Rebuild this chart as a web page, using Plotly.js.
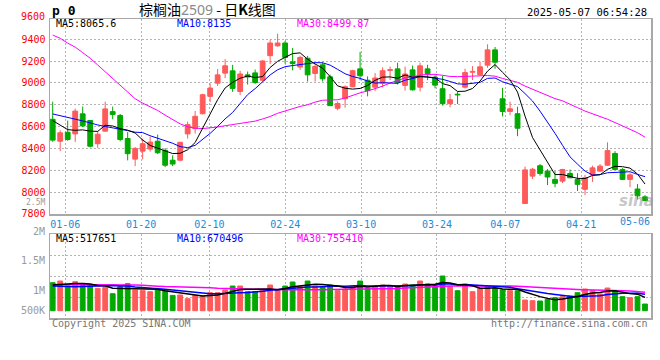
<!DOCTYPE html>
<html><head><meta charset="utf-8">
<script src="https://cdn.plot.ly/plotly-3.0.1.min.js"></script>
<style>html,body{margin:0;padding:0;background:#fff;}#chart{width:660px;height:360px;}</style>
</head><body><div id="chart"></div>
<script>
// ---- data ----
const dates = ['01-02','01-03','01-06','01-07','01-08','01-09','01-10','01-13','01-14','01-15','01-16','01-17','01-20','01-21','01-22','01-23','01-24','01-27',
'02-05','02-06','02-07','02-10','02-11','02-12','02-13','02-14','02-17','02-18','02-19','02-20','02-21','02-24','02-25','02-26','02-27','02-28',
'03-03','03-04','03-05','03-06','03-07','03-10','03-11','03-12','03-13','03-14','03-17','03-18','03-19','03-20','03-21','03-24','03-25','03-26','03-27','03-28','03-31',
'04-01','04-02','04-03','04-07','04-08','04-09','04-10','04-11','04-14','04-15','04-16','04-17','04-18','04-21','04-22','04-23','04-24','04-25','04-28','04-29','04-30',
'05-06','05-07'];
const open = [8667,8466,8548,8533,8717,8656,8443,8558,8737,8702, 8491,8302,8375,8394,8466,8383,8292,8292,8533,8581,
 8718,8877,8998,9090,9111,8922,9074,9092,9025,9250, 9340,9366,9193,9146,9226,9087,9166,9056,8768,8855,
 8965,9129,9025,8961,8998,9115,9129,8978,9120,8961, 9129,9053,8947,8810,8897,8961,9098,9075,9163,9303,
 8855,8739,8718,7895,8146,8241,8192,8116,8100,8170, 8116,8025,8158,8192,8246,8354,8207,8116,8028,7956];
const high = [8828,8565,8655,8765,8784,8660,8558,8828,8783,8715, 8550,8413,8490,8509,8527,8402,8337,8460,8646,8743,
 8901,8996,9128,9218,9166,9112,9105,9123,9211,9397, 9452,9386,9321,9250,9248,9177,9190,9076,8830,8976,
 9121,9285,9060,9090,9143,9150,9186,9150,9160,9185, 9166,9075,9067,8899,8921,9130,9154,9196,9354,9330,
 8955,8828,8782,8234,8222,8256,8210,8192,8213,8207, 8173,8158,8241,8256,8456,8375,8219,8173,8073,7972];
const low = [8461,8375,8470,8458,8596,8409,8406,8555,8667,8465, 8290,8238,8300,8371,8348,8229,8238,8282,8490,8536,
 8712,8825,8972,9044,8918,8889,8985,8991,9015,9174, 9332,9177,9115,9120,9013,9013,9013,8788,8750,8773,
 8961,9025,8877,8925,8961,9027,8986,8930,8930,8922, 9025,8950,8792,8777,8807,8949,9027,9067,9138,9130,
 8693,8705,8512,7893,8120,8150,8064,8044,8083,8128, 8010,7972,8093,8189,8241,8203,8113,8045,7933,7918];
const close = [8476,8543,8482,8742,8606,8420,8530,8762,8711,8482, 8352,8400,8443,8458,8360,8246,8257,8456,8618,8694,
 8892,8953,9074,9157,8950,9082,9055,9004,9201,9366, 9366,9234,9178,9234,9074,9151,9038,8792,8812,8965,
 9112,9067,8930,9045,9112,9122,9005,9082,8937,9157, 9084,8980,8810,8846,8890,9095,9106,9148,9303,9190,
 8739,8763,8585,8203,8209,8171,8138,8080,8207,8131, 8071,8131,8222,8238,8380,8207,8116,8158,7965,7922];
const volume = [1120000,1187000,987000,1160000,1000000,1000000,893000,933000,680000,960000,
 1080000,827000,800000,760000,827000,787000,613000,627000,480000,613000,
 587000,720000,720000,827000,987000,987000,760000,760000,827000,1027000,
 827000,987000,1147000,960000,1187000,987000,960000,1027000,800000,867000,
 987000,1187000,893000,960000,1027000,987000,987000,1067000,1027000,1187000,
 1067000,960000,1387000,960000,800000,1067000,760000,893000,960000,893000,
 827000,800000,800000,427000,400000,387000,453000,520000,560000,587000,
 720000,867000,800000,667000,907000,760000,560000,520000,560000,267000];
// moving-average values at the start of the window (they depend on days before the chart)
const ma5Head = [8655,8610,8572,8566];
const ma10Head = [8716,8702,8688,8668,8652,8632,8615,8601,8590];
const ma30Head = [9439,9409,9365,9328,9278,9226,9165,9104,9043,8980,8915,8855,8815,8785,8748,8705,8662,8625,8598,8585,8582,8588,8596,8608,8618,8627,8636,8650,8670];
const vma5Head = [1027000,1053000,1080000,1093000];
const vma10Head = [987000,973000,960000,960000,973000,987000,1000000,1013000,1013000];
const vma30Head = [1053000,1053000,1050000,1050000,1047000,1045000,1043000,1040000,1037000,1035000,1030000,1027000,1020000,1013000,980000,965000,960000,955000,950000,935000,925000,915000,900000,890000,885000,880000,875000,870000,865000];
const gridDates = ['01-06','01-20','02-10','02-24','03-10','03-24','04-07','04-21'];
const lastDate = '05-06';
const priceTicks = [7800,8000,8200,8400,8600,8800,9000,9200,9400];

// ---- helpers ----
function movingAvg(vals, n, head){
  return vals.map((v,i)=>{
    if(i<n-1) return head[i];
    let s=0; for(let k=i-n+1;k<=i;k++) s+=vals[k]; return s/n;
  });
}
const idx = dates.map((d,i)=>i);
const RED='#ff5a5a', GREEN='#00a800';
const up = idx.map(i=>close[i]>=open[i]);
const colors = idx.map(i=>up[i]?RED:GREEN);

function wick(sel){
  const xs=[], ys=[];
  idx.forEach(i=>{ if(up[i]===sel){ xs.push(i,i,null); ys.push(low[i],high[i],null);} });
  return {type:'scatter',mode:'lines',x:xs,y:ys,xaxis:'x',yaxis:'y',
    line:{color:sel?RED:GREEN,width:1},hoverinfo:'skip'};
}
const bodies = {type:'bar',x:idx,base:idx.map(i=>Math.min(open[i],close[i])),
  y:idx.map(i=>Math.abs(close[i]-open[i])),width:0.64,xaxis:'x',yaxis:'y',
  marker:{color:colors,line:{color:colors,width:1}},hoverinfo:'skip'};
const mono='DejaVu Sans Mono';
function maLine(y,color,w,ax){
  return {type:'scatter',mode:'lines',x:idx,y:y,xaxis:ax[0],yaxis:ax[1],line:{color:color,width:w},hoverinfo:'skip'};
}
const vbars = {type:'bar',x:idx,y:volume,width:0.64,xaxis:'x2',yaxis:'y2',
  marker:{color:colors,line:{color:colors,width:1}},hoverinfo:'skip'};

const traces=[wick(true),wick(false),bodies,
  maLine(movingAvg(close,30,ma30Head),'#ff00ff',1,['x','y']),
  maLine(movingAvg(close,10,ma10Head),'#0000ff',1,['x','y']),
  maLine(movingAvg(close,5,ma5Head),'#000000',1,['x','y']),
  vbars,
  maLine(movingAvg(volume,30,vma30Head),'#ff00ff',1.5,['x2','y2']),
  maLine(movingAvg(volume,10,vma10Head),'#0000ff',1.5,['x2','y2']),
  maLine(movingAvg(volume,5,vma5Head),'#000000',1.5,['x2','y2'])];

// vertical grid positions (Sina spaces its date grid slightly wider than the candles)
const gridX = gridDates.map(d=>dates.indexOf(d)*1.0117-0.344);
const XR=[-0.36,79.8];
const L=50,T=19,W=601,H=299;
const xp=px=>(px-L)/W, yp=py=>(T+H-py)/H;
function ann(text,px,py,xa,color,size,extra){
  return Object.assign({text:text,xref:'paper',yref:'paper',x:xp(px),y:yp(py),xanchor:xa,yanchor:'middle',
    showarrow:false,font:{family:mono,size:size||10,color:color||'#000'}},extra||{});
}
const GRID='#b4b4b4', BORDER='#a8a8a8';
const annotations=[
  ann('<b>p 0</b>',50,10,'left','#000',13),
  {text:"棕榈油<span style='color:#8a8a8a;font-family:Noto Sans'>2509</span> - 日<b>K</b>线图",xref:'paper',yref:'paper',
    x:xp(207.5),y:yp(9.5),xanchor:'center',yanchor:'middle',showarrow:false,font:{family:'Noto Sans CJK SC',size:14,color:'#000'}},
  ann('2025-05-07 06:54:28',649,12,'right','#000',10.5),
  ann('MA5:8065.6',54,24,'left','#000'),
  ann('MA10:8135',174.5,24,'left','#0000ff'),
  ann('MA30:8499.87',295,24,'left','#ff00ff'),
  ann('9600',46.5,16.5,'right','#ff0000'),
  ann('2.5M',46.5,202.5,'right','#999',8),
  ann('2M',46.5,231,'right','#999'),
  ann('1.5M',46.5,260.5,'right','#999'),
  ann('1M',46.5,290.3,'right','#999'),
  ann('500K',46.5,310.8,'right','#999'),
  ann('MA5:517651',54,238.3,'left','#000'),
  ann('MA10:670496',175,238.3,'left','#0000ff'),
  ann('MA30:755410',295,238.3,'left','#ff00ff'),
  ann('Copyright 2025 SINA.COM',49.5,323.3,'left','#777'),
  ann('http://finance.sina.com.cn',649.5,323.3,'right','#777'),
  {text:lastDate,xref:'x',yref:'paper',x:dates.indexOf(lastDate)-0.3,y:yp(221.8),xanchor:'center',yanchor:'middle',
    showarrow:false,font:{family:mono,size:10,color:'#1e8ad6'}},
  ann('<b><i>sina</i></b>',636,201,'center','rgba(150,150,150,0.55)',15,{font:{family:'DejaVu Sans',size:15,color:'rgba(150,150,150,0.55)'}})
];
const axCommon={showline:true,mirror:true,linecolor:BORDER,linewidth:1.5,zeroline:false,ticks:'',
  showgrid:true,gridcolor:GRID,griddash:'2px,2px',gridwidth:1,fixedrange:true};
const layout={width:660,height:360,margin:{l:L,r:660-L-W,t:T,b:360-T-H,pad:0},
  paper_bgcolor:'#fff',plot_bgcolor:'#fff',showlegend:false,hovermode:false,bargap:0,
  xaxis:Object.assign({},axCommon,{domain:[0,1],anchor:'y',range:XR,tickmode:'array',tickvals:gridX,ticktext:gridDates,
    tickfont:{family:mono,size:10,color:'#1e8ad6'}}),
  yaxis:Object.assign({},axCommon,{domain:[yp(214),1],anchor:'x',range:[7799,9586],tickmode:'array',tickvals:priceTicks,
    ticktext:priceTicks.map(String),tickfont:{family:mono,size:10,color:'#ff0000'},ticklabelstandoff:1}),
  xaxis2:Object.assign({},axCommon,{domain:[0,1],anchor:'y2',range:XR,tickmode:'array',tickvals:gridX,showticklabels:false}),
  yaxis2:Object.assign({},axCommon,{domain:[0,yp(234)],anchor:'x2',range:[-292000,3068000],tickmode:'array',
    tickvals:[548000,1388000,2228000],showticklabels:false}),
  annotations:annotations};
Plotly.newPlot('chart',traces,layout,{staticPlot:true,displayModeBar:false});
</script></body></html>
